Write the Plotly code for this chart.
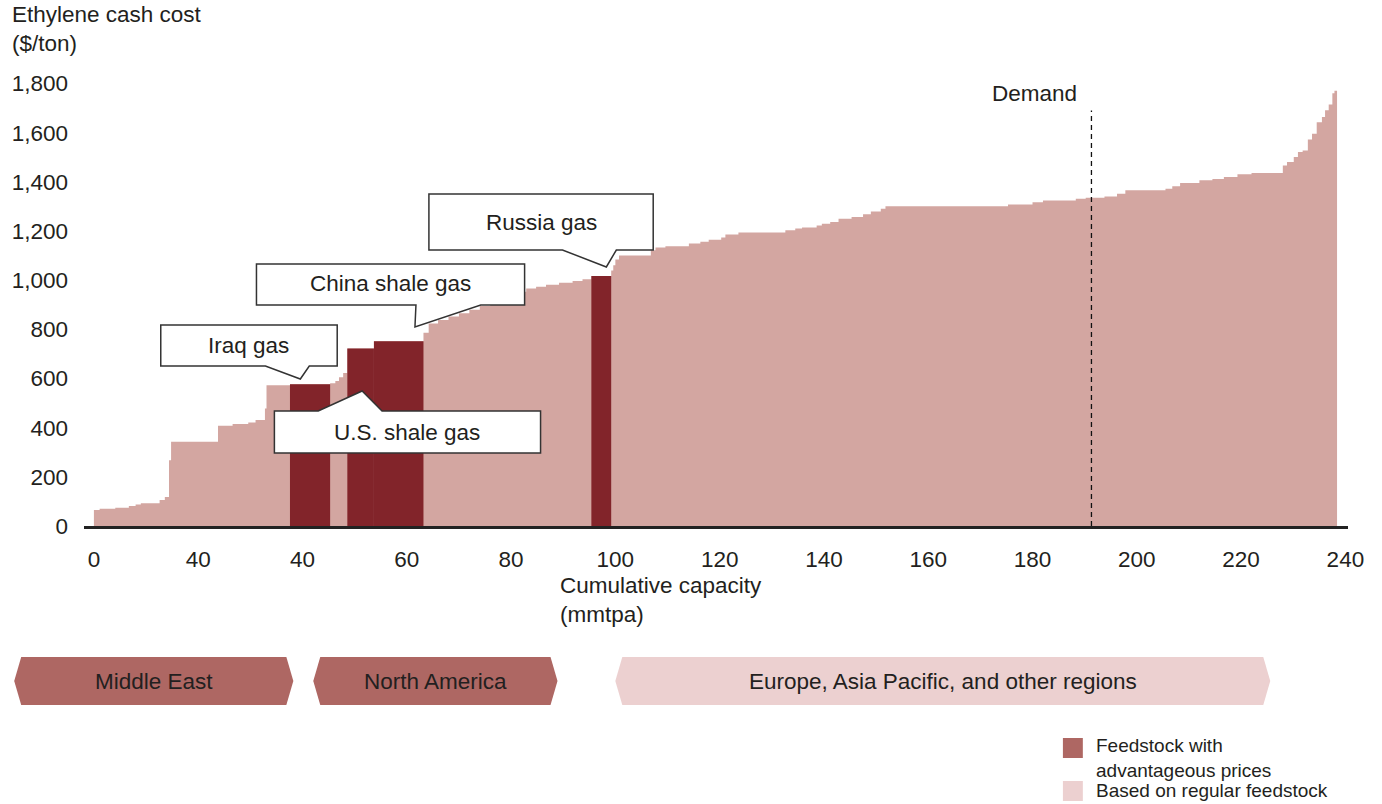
import plotly.graph_objects as go

# ---------------- data ----------------
# cost-curve steps: capacity at which each step starts (mmtpa) and its cash cost ($/ton)
step_start = [0, 1.1, 4.1, 6.7, 8.0, 9.0, 12.6, 13.6, 14.4, 14.8, 23.8, 26.6, 29.6, 31.0,
              32.8, 33.1, 37.6, 45.3, 46.3, 47.0, 47.8, 48.6, 53.7, 63.2, 64.2, 66, 68,
              70, 72, 74, 76, 78, 80, 81.5, 82.9, 84.8, 86.7, 89.2, 91.8, 93.7, 95.4,
              99.2, 99.6, 100.0, 100.7, 106.8, 107.7, 109.6, 114.1, 116.3, 117.9, 120.3,
              121.1, 123.6, 132.6, 134.5, 135.8, 138.6, 139.6, 141.2, 142.8, 145.3, 147.5,
              149.0, 150.9, 151.8, 175.3, 180.0, 182.0, 188.3, 190.2, 193.8, 196.2, 197.8,
              205.5, 206.8, 208.3, 212.0, 214.5, 216.7, 219.3, 222.0, 228.0, 228.8, 230.1,
              230.9, 231.8, 232.8, 233.6, 234.5, 235.5, 236.1, 236.8, 237.5, 237.9]
step_cost = [65, 70, 74, 81, 87, 93, 106, 118, 268, 343, 408, 415, 421, 431,
             478, 573, 577, 581, 590, 605, 622, 722, 752, 786, 824, 838, 852,
             866, 880, 895, 910, 925, 940, 953, 966, 973, 982, 990, 997, 1004, 1017,
             1040, 1061, 1084, 1101, 1122, 1133, 1138, 1149, 1156, 1165, 1174,
             1186, 1194, 1203, 1210, 1214, 1223, 1230, 1237, 1250, 1257, 1268,
             1280, 1291, 1301, 1308, 1317, 1324, 1331, 1336, 1341, 1352, 1366,
             1372, 1382, 1396, 1407, 1412, 1420, 1431, 1436, 1467, 1481, 1501,
             1522, 1528, 1572, 1596, 1643, 1664, 1691, 1715, 1761, 1771]
curve_end = 238.4

# highlighted capacity (advantageous feedstock)
adv_names = ["Iraq gas", "U.S. shale gas", "U.S. shale gas", "Russia gas"]
adv_start = [37.6, 48.6, 53.7, 95.4]
adv_end = [45.3, 53.7, 63.2, 99.2]
adv_cost = [577, 722, 752, 1017]

demand_capacity = 191.3
demand_top = 1690

x_tick_vals = [0, 20, 40, 60, 80, 100, 120, 140, 160, 180, 200, 220, 240]
x_tick_text = ["0", "40", "40", "60", "80", "100", "120", "140", "160", "180", "200", "220", "240"]
y_tick_vals = [0, 200, 400, 600, 800, 1000, 1200, 1400, 1600, 1800]
y_tick_text = ["0", "200", "400", "600", "800", "1,000", "1,200", "1,400", "1,600", "1,800"]

regions = ["Middle East", "North America", "Europe, Asia Pacific, and other regions"]
legend_labels = ["Feedstock with<br>advantageous prices", "Based on regular feedstock"]

# ---------------- style ----------------
W, H = 1382, 804
ML, MR, MT, MB = 80, 34, 59, 278
PW, PH = W - ML - MR, H - MT - MB
FONT = "Liberation Sans, Arial, Helvetica, sans-serif"
FS = 22.5
TXT = "#231f20"
LIGHT = "#d3a6a1"
DARK = "#82242a"
REG_DARK = "#ae6763"
REG_LIGHT = "#ecd0d0"


def px(x):
    return (x - ML) / PW


def py(y):
    return (H - MB - y) / PH


def path(points):
    s = "M " + " L ".join(f"{px(a):.5f},{py(b):.5f}" for a, b in points) + " Z"
    return s


fig = go.Figure()

# light cost curve
fig.add_trace(go.Scatter(
    x=step_start + [curve_end], y=step_cost + [step_cost[-1]],
    mode="lines", line=dict(shape="hv", width=0, color=LIGHT),
    fill="tozeroy", fillcolor=LIGHT, hoverinfo="skip", showlegend=False))

# dark blocks (advantageous feedstock), drawn as filled rectangles in data space
for name, a, b, c in zip(adv_names, adv_start, adv_end, adv_cost):
    fig.add_trace(go.Scatter(
        x=[a, a, b, b, a], y=[0, c, c, 0, 0], mode="lines",
        line=dict(width=0, color=DARK), fill="toself", fillcolor=DARK,
        name=name, showlegend=False))

shapes = []
# demand line
shapes.append(dict(type="line", xref="x", yref="y", x0=demand_capacity, x1=demand_capacity,
                   y0=0, y1=demand_top, line=dict(color="#111", width=1.3, dash="5px,4px"),
                   layer="above"))

# callouts (box + pointer)
callouts = [
    ("Iraq gas", [(157, 325), (334, 325), (334, 366), (306, 366), (297, 379), (262, 366), (157, 366)], (245.5, 345.5)),
    ("China shale gas", [(253, 264), (522, 264), (522, 305), (478, 305), (412, 327), (413, 305), (253, 305)], (387.5, 283)),
    ("Russia gas", [(426, 194), (651, 194), (651, 250), (614, 250), (604, 267), (560, 250), (426, 250)], (539, 222)),
    ("U.S. shale gas", [(271, 411), (315, 411), (359, 391), (379, 411), (538, 411), (538, 453), (271, 453)], (404.5, 432)),
]
annotations = []
for label, pts, (cx, cy) in callouts:
    shapes.append(dict(type="path", xref="paper", yref="paper", path=path(pts),
                       fillcolor="white", line=dict(color="#333", width=1.5), layer="above"))
    annotations.append(dict(text=label, xref="paper", yref="paper", x=px(cx), y=py(cy),
                            xanchor="center", yanchor="middle", showarrow=False,
                            font=dict(size=FS, color=TXT, family=FONT)))

# region banners
banners = [(10, 290, REG_DARK), (310, 555, REG_DARK), (613, 1270, REG_LIGHT)]
for name, (x0, x1, col) in zip(regions, banners):
    pts = [(x0, 681), (x0 + 7, 657), (x1 - 7, 657), (x1, 681), (x1 - 7, 705), (x0 + 7, 705)]
    shapes.append(dict(type="path", xref="paper", yref="paper", path=path(pts),
                       fillcolor=col, line=dict(width=0), layer="above"))
    annotations.append(dict(text=name, xref="paper", yref="paper", x=px((x0 + x1) / 2), y=py(681),
                            xanchor="center", yanchor="middle", showarrow=False,
                            font=dict(size=FS, color=TXT, family=FONT)))

# legend
leg = [(REG_DARK, 738, 757.5), (REG_LIGHT, 781, 790.5)]
for (col, ytop, ytxt), lab in zip(leg, legend_labels):
    shapes.append(dict(type="rect", xref="paper", yref="paper", x0=px(1062), x1=px(1082),
                       y0=py(ytop), y1=py(ytop + 20), fillcolor=col, line=dict(width=0)))
    annotations.append(dict(text=lab, xref="paper", yref="paper", x=px(1093), y=py(ytxt),
                            xanchor="left", yanchor="middle", align="left", showarrow=False,
                            font=dict(size=19, color=TXT, family=FONT)))

# axis titles & demand label
annotations.append(dict(text="Ethylene cash cost<br>($/ton)", xref="paper", yref="paper",
                        x=px(6), y=py(29.5), xanchor="left", yanchor="middle", align="left",
                        showarrow=False, font=dict(size=FS, color=TXT, family=FONT)))
annotations.append(dict(text="Cumulative capacity<br>(mmtpa)", xref="paper", yref="paper",
                        x=px(556), y=py(600), xanchor="left", yanchor="middle", align="left",
                        showarrow=False, font=dict(size=FS, color=TXT, family=FONT)))
annotations.append(dict(text="Demand", xref="x", yref="paper", x=demand_capacity - 11,
                        y=py(93), xanchor="center", yanchor="middle", showarrow=False,
                        font=dict(size=FS, color=TXT, family=FONT)))

fig.update_layout(
    width=W, height=H, margin=dict(l=ML, r=MR, t=MT, b=MB),
    paper_bgcolor="white", plot_bgcolor="white",
    showlegend=False,
    font=dict(family=FONT, color=TXT, size=FS),
    shapes=shapes, annotations=annotations,
    xaxis=dict(range=[-1.9, 240.5], tickvals=x_tick_vals, ticktext=x_tick_text,
               showgrid=False, zeroline=False, showline=True, linecolor="#222", linewidth=2.5,
               ticks="", ticklabelstandoff=11, tickfont=dict(size=FS, color=TXT)),
    yaxis=dict(range=[0, 1900], tickvals=y_tick_vals, ticktext=y_tick_text,
               showgrid=False, zeroline=False, showline=False, ticks="",
               ticklabelstandoff=15, tickfont=dict(size=FS, color=TXT)),
)

fig.write_html("out.html")
